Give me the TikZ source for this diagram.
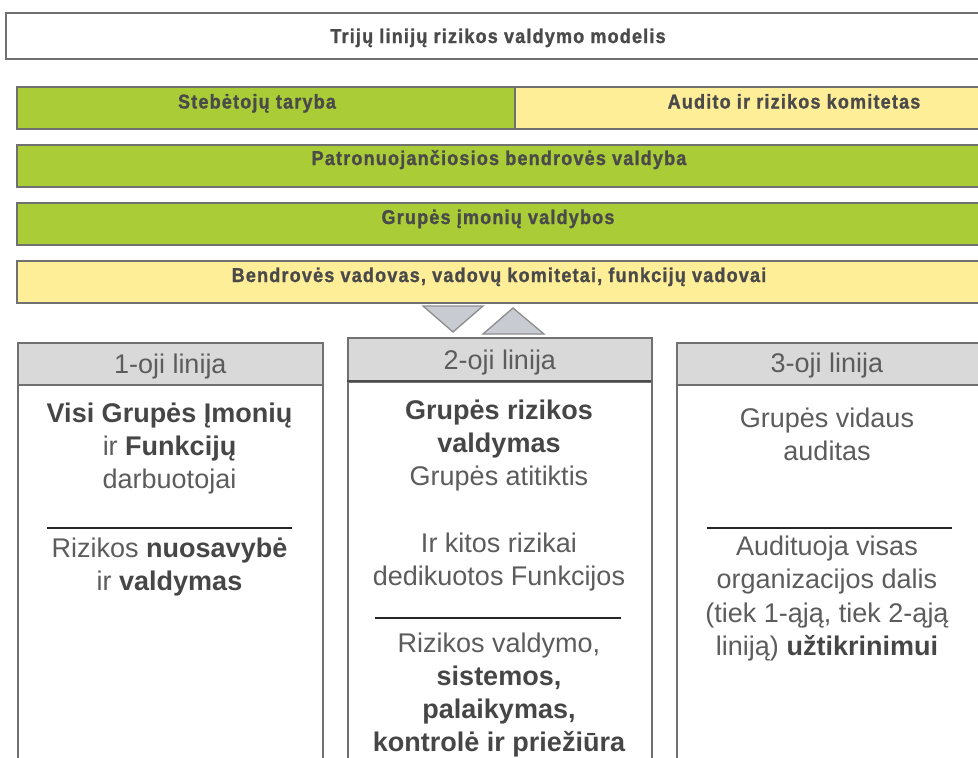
\documentclass[tikz,border=0pt]{standalone}
\usepackage{fontspec}
\setmainfont{Liberation Sans}
\newfontfamily\bandfont[FakeStretch=0.9,LetterSpace=6,FakeBold=1.2]{Liberation Sans Bold}
\definecolor{bgreen}{RGB}{170,205,55}
\definecolor{byellow}{RGB}{255,238,152}
\definecolor{hgray}{RGB}{217,217,217}
\definecolor{trifill}{RGB}{200,204,210}
\definecolor{bordercol}{RGB}{112,112,112}
\definecolor{bandtext}{RGB}{74,74,74}
\definecolor{bodytext}{RGB}{92,92,92}
\definecolor{boldtext}{RGB}{70,70,70}
\begin{document}
\begin{tikzpicture}[x=1pt,y=-1pt,
  bandbox/.style={draw=bordercol, line width=1.6pt, inner sep=0pt, anchor=north west},
  bandlabel/.style={inner sep=0pt, anchor=base, text=bandtext, font=\bandfont\fontsize{20}{22}\selectfont},
  headbox/.style={draw=bordercol, line width=1.6pt, fill=hgray, inner sep=0pt, anchor=north west,
    text=bodytext, font=\fontsize{27}{33}\selectfont, text height=19.3pt, text depth=0pt},
  colbox/.style={draw=bordercol, line width=1.6pt, fill=white, inner sep=0pt, anchor=north west},
  coltext/.style={inner sep=0pt, align=center, text=bodytext, font=\fontsize{27}{33.3}\selectfont},
  rulel/.style={line width=1.4pt, black!85},
  tri/.style={draw=bordercol!80, line width=1.3pt, fill=trifill, line join=miter}]
\useasboundingbox (0,0) rectangle (978,758);
\clip (0,0) rectangle (978,758);
\newcommand\bb[1]{{\bfseries\color{boldtext}#1}}

% title
\node[bandbox, fill=white, minimum width=990pt, minimum height=46pt] (titlebox) at (5,12) {};
\node[bandlabel] (title) at (498,43) {Trijų linijų rizikos valdymo modelis};

% row 2
\node[bandbox, fill=bgreen, minimum width=498pt, minimum height=42pt] (stebbox) at (16,86) {};
\node[bandbox, fill=byellow, minimum width=560pt, minimum height=42pt] (auditbox) at (514,86) {};
\node[bandlabel] (steb) at (257,108.5) {Stebėtojų taryba};
\node[bandlabel] (audit) at (794,108.5) {Audito ir rizikos komitetas};

% row 3-5
\node[bandbox, fill=bgreen, minimum width=980pt, minimum height=42pt] (patrbox) at (16,144) {};
\node[bandlabel] (patr) at (499,165) {Patronuojančiosios bendrovės valdyba};
\node[bandbox, fill=bgreen, minimum width=980pt, minimum height=42pt] (grupbox) at (16,202) {};
\node[bandlabel] (grup) at (498,224) {Grupės įmonių valdybos};
\node[bandbox, fill=byellow, minimum width=980pt, minimum height=42pt] (vadbox) at (16,260) {};
\node[bandlabel] (vad) at (499,282) {Bendrovės vadovas, vadovų komitetai, funkcijų vadovai};

% triangles
\draw[tri] (423,306) -- (483,306) -- (453,332) -- cycle;
\draw[tri] (483,334) -- (544,334) -- (513,308) -- cycle;

% column 1
\node[colbox, minimum width=305pt, minimum height=450pt] (c1body) at (17,384) {};
\node[headbox, minimum width=305pt, minimum height=42pt] (c1head) at (17,342) {1-oji linija};
\node[coltext] (c1a) at (169.5,448.5) {\bb{Visi Grupės Įmonių}\\ ir \bb{Funkcijų}\\ darbuotojai};
\draw[rulel] (47,528) -- (292,528);
\node[coltext] (c1b) at (169.5,567) {Rizikos \bb{nuosavybė}\\ ir \bb{valdymas}};

% column 2
\node[colbox, minimum width=304pt, minimum height=450pt] (c2body) at (347,381) {};
\node[headbox, minimum width=304pt, minimum height=44pt] (c2head) at (347,337) {2-oji linija};
\draw[line width=2.6pt, black!70] (347,381) -- (651,381);
\node[coltext] (c2a) at (499,495.5) {\bb{Grupės rizikos}\\ \bb{valdymas}\\ Grupės atitiktis\\[33.3pt] Ir kitos rizikai\\ dedikuotos Funkcijos};
\draw[rulel] (375,618) -- (621,618);
\node[coltext] (c2b) at (499,695) {Rizikos valdymo,\\ \bb{sistemos,}\\ \bb{palaikymas,}\\ \bb{kontrolė ir priežiūra}};

% column 3
\node[colbox, minimum width=320pt, minimum height=450pt] (c3body) at (676,384) {};
\node[headbox, minimum width=320pt, minimum height=42pt] (c3head) at (676,342) {};
\node[inner sep=0pt, text=bodytext, font=\fontsize{27}{33}\selectfont, anchor=base] (c3headtext) at (827,372.5) {3-oji linija};
\node[coltext] (c3a) at (827,434.5) {Grupės vidaus\\ auditas};
\draw[rulel] (707,528) -- (952,528);
\node[coltext] (c3b) at (827,598.5) {Audituoja visas\\ organizacijos dalis\\ (tiek 1-ąją, tiek 2-ąją\\ liniją) \bb{užtikrinimui}};
\end{tikzpicture}
\end{document}
